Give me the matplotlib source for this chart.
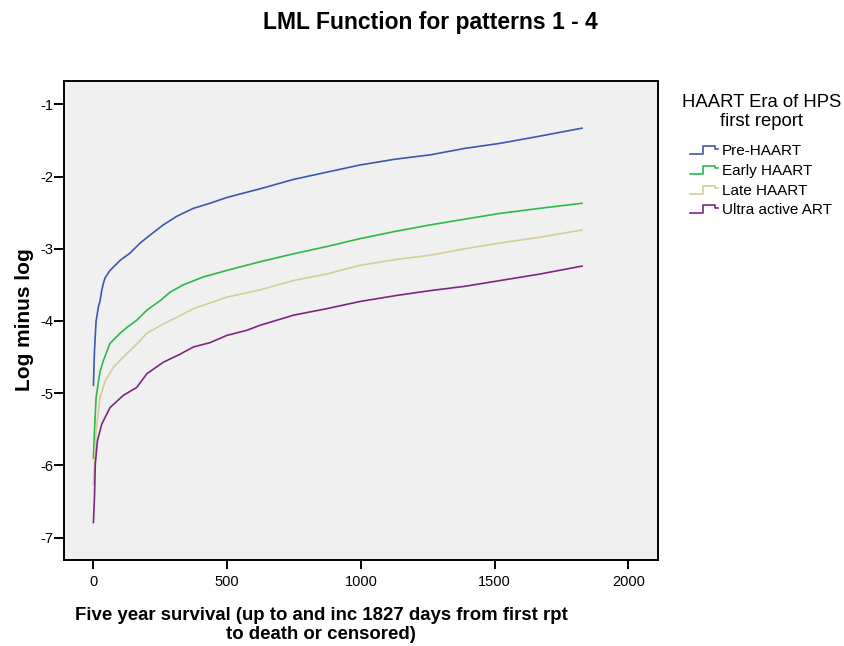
import matplotlib
matplotlib.use("Agg")
import matplotlib.pyplot as plt
from matplotlib.legend_handler import HandlerLine2D
from matplotlib.lines import Line2D

plt.rcParams.update({
    "font.family": "Liberation Sans",
    "font.size": 10,
    "axes.unicode_minus": False,
})

# Log minus log estimates per HAART era (days since first report)
DAYS_PRE = [0, 4, 10, 19, 25, 31, 37, 44, 62, 100, 137, 175, 212, 261, 312, 374, 436,
            499, 623, 748, 872, 997, 1128, 1259, 1389, 1521, 1670, 1827]
LML_PRE = [-4.89, -4.41, -4.00, -3.80, -3.72, -3.58, -3.48, -3.40, -3.30, -3.16, -3.06,
           -2.92, -2.81, -2.67, -2.55, -2.44, -2.37, -2.29, -2.17, -2.04, -1.94, -1.84,
           -1.76, -1.70, -1.61, -1.54, -1.44, -1.33]

DAYS_EARLY = [0, 4, 10, 19, 25, 37, 62, 100, 125, 162, 200, 249, 287, 336, 411, 499,
              623, 748, 872, 997, 1128, 1259, 1389, 1521, 1670, 1827]
LML_EARLY = [-5.90, -5.52, -5.06, -4.83, -4.70, -4.55, -4.31, -4.17, -4.09, -3.99, -3.85,
             -3.72, -3.60, -3.50, -3.39, -3.30, -3.18, -3.07, -2.97, -2.86, -2.76, -2.67,
             -2.59, -2.51, -2.44, -2.37]

DAYS_LATE = [0, 4, 10, 25, 44, 75, 112, 162, 200, 262, 312, 374, 436, 499, 623, 748,
             872, 997, 1128, 1259, 1389, 1521, 1670, 1827]
LML_LATE = [-6.26, -5.98, -5.52, -5.06, -4.83, -4.64, -4.50, -4.32, -4.17, -4.04, -3.95,
            -3.83, -3.75, -3.67, -3.57, -3.44, -3.35, -3.23, -3.15, -3.09, -3.00, -2.92,
            -2.84, -2.74]

DAYS_ULTRA = [0, 4, 7, 15, 31, 62, 112, 162, 200, 262, 324, 374, 436, 499, 573, 623,
              748, 872, 997, 1128, 1259, 1389, 1521, 1670, 1827]
LML_ULTRA = [-6.79, -6.44, -5.98, -5.66, -5.43, -5.20, -5.03, -4.92, -4.73, -4.57, -4.46,
             -4.36, -4.30, -4.20, -4.13, -4.06, -3.92, -3.83, -3.73, -3.65, -3.58, -3.52,
             -3.44, -3.35, -3.24]

GRUPOS = ["Pre-HAART", "Early HAART", "Late HAART", "Ultra active ART"]
CORES = ["#3E58AC", "#2EB848", "#D3CE97", "#7C287D"]
SERIES = [(DAYS_PRE, LML_PRE), (DAYS_EARLY, LML_EARLY),
          (DAYS_LATE, LML_LATE), (DAYS_ULTRA, LML_ULTRA)]


class HandlerStep(HandlerLine2D):
    """Legend key drawn as a small step."""
    def create_artists(self, legend, orig_handle, xdescent, ydescent,
                       width, height, fontsize, trans):
        x0, x1 = -xdescent, -xdescent + width
        y0, y1 = -ydescent + height * 0.1, -ydescent + height * 0.85
        xs = [x0, x0 + width * 0.45, x0 + width * 0.45, x0 + width * 0.88,
              x0 + width * 0.88, x1]
        ys = [y0, y0, y1, y1, y0 + height * 0.5, y0 + height * 0.5]
        ln = Line2D(xs, ys, color=orig_handle.get_color(), linewidth=1.2,
                    transform=trans)
        return [ln]


fig = plt.figure(figsize=(8.45, 6.46), dpi=100)
ax = fig.add_axes([64 / 845, 1 - 560 / 646, (657.7 - 64) / 845, (560 - 81) / 646])
ax.set_facecolor("#F0F0F0")

handles = []
for (d, v), nome, cor in zip(SERIES, GRUPOS, CORES):
    h, = ax.plot(d, v, color=cor, linewidth=1.2, label=nome)
    handles.append(h)

ax.set_xlim(-110, 2110)
ax.set_ylim(-7.31, -0.677)
ax.set_xticks([0, 500, 1000, 1500, 2000])
ax.set_yticks([-7, -6, -5, -4, -3, -2, -1])
ax.tick_params(axis="x", direction="out", length=6.5, width=1.4, pad=4, labelsize=10.5)
ax.tick_params(axis="y", direction="out", length=7, width=1.4, pad=1, labelsize=10.5)
for s in ax.spines.values():
    s.set_linewidth(1.4)

fig.text(25 / 845, 1 - 320 / 646, "Log minus log", rotation=90,
         ha="center", va="center", fontsize=15, fontweight="bold")
fig.text(321 / 845, 1 - 625 / 646,
         "Five year survival (up to and inc 1827 days from first rpt\nto death or censored)",
         ha="center", va="center", fontsize=13.4, fontweight="bold", linespacing=1.12)
fig.text(430 / 845, 1 - 23 / 646, "LML Function for patterns 1 - 4",
         ha="center", va="center", fontsize=16.5, fontweight="bold")

fig.text(762 / 845, 1 - 112 / 646, "HAART Era of HPS\nfirst report",
         ha="center", va="center", fontsize=13.3, linespacing=1.12,
         multialignment="center")
fig.legend(handles, GRUPOS, loc="upper left",
           bbox_to_anchor=(690 / 845, 1 - 144 / 646),
           fontsize=11, frameon=False, handlelength=1.85, handletextpad=0.26,
           labelspacing=0.38, borderaxespad=0, borderpad=0,
           handler_map={Line2D: HandlerStep()})

fig.savefig("out.png", dpi=100)
